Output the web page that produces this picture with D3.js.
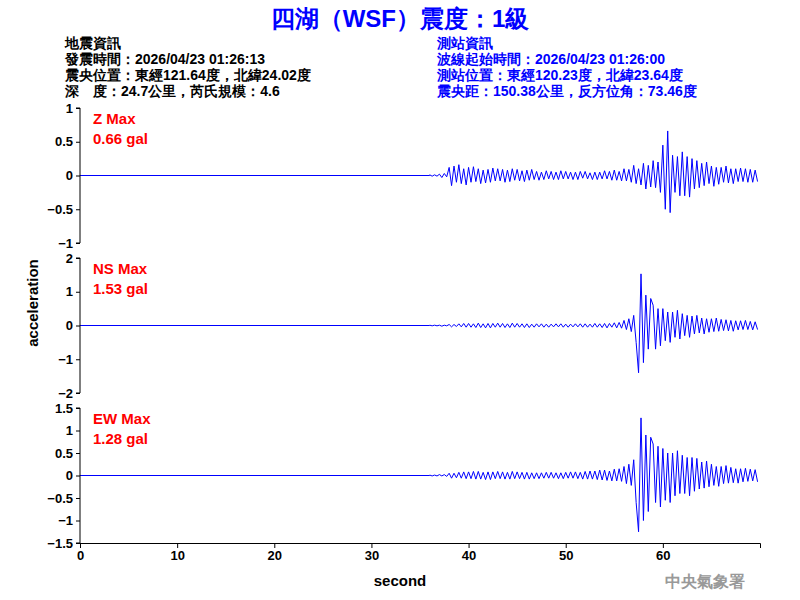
<!DOCTYPE html><html><head><meta charset="utf-8"><script src="https://cdn.jsdelivr.net/npm/d3@7"></script>
<style>body{margin:0;background:#fff}text{font-family:Arial,"Liberation Sans",sans-serif}</style></head><body><svg width="800" height="600"></svg>
<script>
const startT=36, stepT=0.25;
const zVals=[.01,-.01,.01,-.01,.02,-.03,.03,-.02,.12,-.15,.14,-.1,.16,-.12,.1,-.14,.12,-.1,.13,-.09,.1,-.12,.08,-.11,.09,-.1,.11,-.08,.1,-.08,.09,-.1,.08,-.09,.1,-.07,.09,-.08,.07,-.09,.08,-.07,.09,-.06,.06,-.07,.05,-.06,.07,-.05,.06,-.06,.05,-.06,.07,-.05,.06,-.05,.05,-.06,.05,-.06,.06,-.04,.06,-.05,.04,-.06,.05,-.06,.05,-.05,.07,-.05,.06,-.07,.08,-.07,.06,-.08,.1,-.08,.09,-.1,.15,-.12,.1,-.14,.18,-.2,.15,-.17,.22,-.18,.2,-.25,.45,-.5,.66,-.55,.3,-.25,.28,-.3,.35,-.3,.28,-.32,.25,-.2,.22,-.18,.18,-.15,.2,-.12,.14,-.16,.12,-.13,.12,-.1,.14,-.11,.1,-.12,.1,-.09,.11,-.09,.1,-.1,.09,-.1,.08,-.09];
const nsVals=[.01,-.01,.01,-.01,.01,-.02,.01,-.01,.03,-.04,.03,-.03,.05,-.04,.06,-.05,.06,-.05,.05,-.06,.07,-.06,.05,-.07,.06,-.07,.06,-.05,.07,-.05,.06,-.06,.05,-.06,.07,-.05,.06,-.05,.05,-.06,.05,-.06,.04,-.05,.05,-.04,.05,-.05,.04,-.05,.04,-.04,.05,-.04,.05,-.05,.04,-.05,.04,-.04,.05,-.04,.05,-.05,.05,-.05,.04,-.05,.06,-.05,.05,-.06,.06,-.07,.06,-.05,.08,-.07,.09,-.08,.15,-.12,.2,-.18,.3,-.5,-1.4,1.53,-1.1,.9,-.7,.8,.6,-.7,.5,-.6,.5,-.45,.4,-.5,.4,-.35,.45,-.4,.35,-.3,.3,-.35,.28,-.25,.3,-.22,.22,-.25,.2,-.2,.2,-.18,.22,-.17,.18,-.15,.17,-.16,.15,-.17,.14,-.13,.14,-.12,.15,-.12,.12,-.13,.11,-.12];
const ewVals=[.01,-.01,.01,-.01,.02,-.01,.02,-.02,.05,-.06,.05,-.05,.07,-.06,.08,-.07,.08,-.07,.09,-.08,.09,-.08,.07,-.09,.08,-.09,.08,-.07,.09,-.07,.08,-.08,.07,-.08,.09,-.07,.08,-.07,.07,-.08,.07,-.08,.06,-.07,.06,-.07,.06,-.06,.07,-.06,.07,-.06,.06,-.07,.06,-.07,.07,-.06,.08,-.06,.08,-.07,.07,-.08,.09,-.08,.1,-.08,.1,-.09,.12,-.1,.12,-.11,.1,-.12,.14,-.12,.15,-.13,.2,-.18,.25,-.22,.35,-.6,-1.25,1.28,-1.0,.9,-.8,.85,.7,-.6,.65,-.7,.6,-.55,.5,-.6,.5,-.45,.55,-.4,.45,-.4,.4,-.45,.4,-.35,.38,-.3,.3,-.28,.32,-.25,.25,-.22,.2,-.24,.2,-.18,.22,-.17,.18,-.16,.15,-.17,.15,-.14,.16,-.13,.14,-.12,.13,-.14];
const panels=[
 {name:"Z Max",max:"0.66 gal",vals:zVals,dom:[-1,1],ticks:[-1,-0.5,0,0.5,1],top:108},
 {name:"NS Max",max:"1.53 gal",vals:nsVals,dom:[-2,2],ticks:[-2,-1,0,1,2],top:258},
 {name:"EW Max",max:"1.28 gal",vals:ewVals,dom:[-1.5,1.5],ticks:[-1.5,-1,-0.5,0,0.5,1,1.5],top:408}];
const xTicks=[0,10,20,30,40,50,60];
const svg=d3.select("svg");
const x=d3.scaleLinear().domain([0,70]).range([80,760]);
const ph=135;
panels.forEach(p=>{
  const y=d3.scaleLinear().domain(p.dom).range([p.top+ph,p.top]);
  const pts=[[0,0],[startT,0]].concat(p.vals.map((v,i)=>[startT+i*stepT,v]));
  svg.append("path").attr("d",d3.line().x(d=>x(d[0])).y(d=>y(d[1]))(pts)).attr("fill","none").attr("stroke","#0000ff").attr("stroke-width",1);
  const ax=svg.append("g").attr("transform","translate(80,0)").call(d3.axisLeft(y).tickValues(p.ticks).tickSize(4).tickFormat(d3.format("")));
  ax.selectAll("text").attr("font-size",13).attr("font-weight","bold").attr("fill","#000");
  ax.select(".domain").attr("d",`M-4,${p.top}H0V${p.top+ph}H-4`);
  svg.append("text").attr("x",93).attr("y",p.top+16).attr("fill","#ff0000").attr("font-size",15).attr("font-weight","bold").text(p.name);
  svg.append("text").attr("x",93).attr("y",p.top+36).attr("fill","#ff0000").attr("font-size",15).attr("font-weight","bold").text(p.max);
});
const xa=svg.append("g").attr("transform","translate(0,543)").call(d3.axisBottom(x).tickValues(xTicks).tickSize(5));
xa.selectAll("text").attr("font-size",13).attr("font-weight","bold");
svg.append("text").attr("x",400).attr("y",586).attr("text-anchor","middle").attr("font-size",15).attr("font-weight","bold").text("second");
svg.append("text").attr("transform","translate(38,303) rotate(-90)").attr("text-anchor","middle").attr("font-size",15).attr("font-weight","bold").text("acceleration");
svg.append("text").attr("x",400).attr("y",27).attr("text-anchor","middle").attr("fill","#0000ff").attr("font-size",24).attr("font-weight","bold").text("四湖（WSF）震度：1級");
const left=["地震資訊","發震時間：2026/04/23 01:26:13","震央位置：東經121.64度，北緯24.02度","深　度：24.7公里，芮氏規模：4.6"];
const right=["測站資訊","波線起始時間：2026/04/23 01:26:00","測站位置：東經120.23度，北緯23.64度","震央距：150.38公里，反方位角：73.46度"];
left.forEach((t,i)=>svg.append("text").attr("x",65).attr("y",48+i*16).attr("font-size",14).attr("font-weight","bold").text(t));
right.forEach((t,i)=>svg.append("text").attr("x",437).attr("y",48+i*16).attr("font-size",14).attr("font-weight","bold").attr("fill","#0000ff").text(t));
svg.append("text").attr("x",745).attr("y",587).attr("text-anchor","end").attr("font-size",16).attr("font-weight","bold").attr("fill","#999").attr("font-family","Noto Sans CJK TC").text("中央氣象署");
</script></body></html>
